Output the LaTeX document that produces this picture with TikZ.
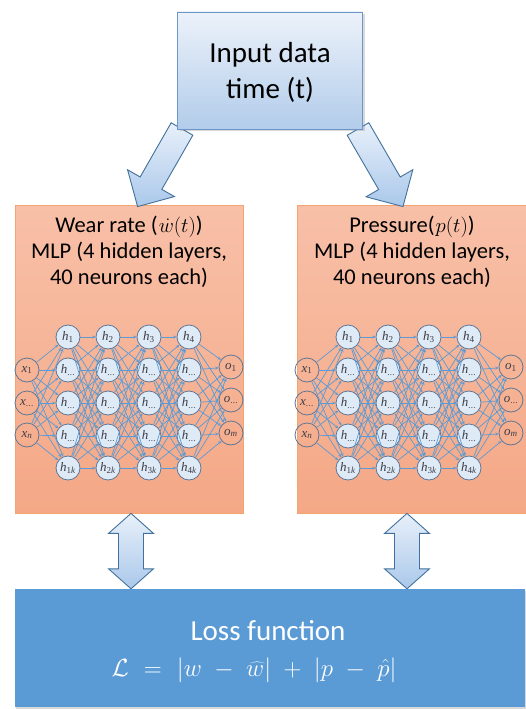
\documentclass[tikz,border=0pt]{standalone}
\usepackage{fontspec}
\setmainfont{Carlito}
\newfontfamily\tnr{Liberation Serif}
\usetikzlibrary{arrows.meta,shadows,calc}
\definecolor{inTop}{RGB}{236,242,250}
\definecolor{inBot}{RGB}{178,204,234}
\definecolor{inBorder}{RGB}{108,150,200}
\definecolor{orTop}{RGB}{248,192,168}
\definecolor{orBot}{RGB}{244,168,134}
\definecolor{orBorder}{RGB}{244,164,112}
\definecolor{lossBlue}{RGB}{91,155,213}
\definecolor{netBlue}{RGB}{91,155,213}
\definecolor{hFill}{RGB}{222,235,247}
\definecolor{nodeBorder}{RGB}{95,118,150}
\definecolor{arrBorder}{RGB}{65,113,156}
\definecolor{arrTop}{RGB}{232,240,250}
\definecolor{arrBot}{RGB}{170,200,234}
\definecolor{labGray}{RGB}{60,60,70}
\tikzset{
  inbox/.style={draw=inBorder, line width=0.9pt, top color=inTop, bottom color=inBot,
    minimum width=185pt, minimum height=117pt, inner sep=0pt,
    drop shadow={opacity=0.3, shadow xshift=2pt, shadow yshift=-2pt}},
  mlpbox/.style={draw=orBorder, line width=0.8pt, top color=orTop, bottom color=orBot,
    minimum height=308pt, inner sep=0pt},
  lossbox/.style={fill=lossBlue, minimum height=118pt, inner sep=0pt,
    drop shadow={opacity=0.3, shadow xshift=1pt, shadow yshift=-2pt}},
  bigtxt/.style={font=\fontsize{29}{35}\selectfont, anchor=base, inner sep=0pt},
  midtxt/.style={font=\fontsize{22.5}{26}\selectfont, anchor=base, inner sep=0pt},
  blockarr/.style={draw=arrBorder, line width=0.9pt, top color=arrTop, bottom color=arrBot},
  dblarr/.style={draw=arrBorder, line width=0.9pt, top color=arrTop, middle color=white!85!arrBot, bottom color=arrBot},
  neuron/.style={circle, draw=nodeBorder, line width=0.8pt, minimum size=24pt, inner sep=0pt,
    font=\tnr\fontsize{13}{14}\selectfont, text=labGray},
  hneuron/.style={neuron, fill=hFill},
  ioneuron/.style={neuron},
  conn/.style={draw=netBlue, line width=0.7pt, -{Stealth[length=3.5pt,width=3pt]}},
}
\newcommand\nlab[2]{\textit{#1}\textsubscript{#2}}
\newcommand\sdots{.\kern0.3pt.\kern0.3pt.}
\newcommand\blockarrow[5]{% tail, tip, shaft half, head half, head length
  \path[blockarr]
    ($(#1)!#3!90:(#2)$) --
    ($($(#2)!#5!(#1)$)!#3!90:(#2)$) --
    ($($(#2)!#5!(#1)$)!#4!90:(#2)$) --
    (#2) --
    ($($(#2)!#5!(#1)$)!#4!-90:(#2)$) --
    ($($(#2)!#5!(#1)$)!#3!-90:(#2)$) --
    ($(#1)!#3!-90:(#2)$) -- cycle;}
\newcommand\doublearrow[2]{% top tip, bottom tip
  \path[dblarr]
    (#1) --
    ($($(#1)!20pt!(#2)$)!22.5pt!-90:(#2)$) --
    ($($(#1)!20pt!(#2)$)!12.5pt!-90:(#2)$) --
    ($($(#2)!20pt!(#1)$)!12.5pt!-90:(#2)$) --
    ($($(#2)!20pt!(#1)$)!22.5pt!-90:(#2)$) --
    (#2) --
    ($($(#2)!20pt!(#1)$)!22.5pt!90:(#2)$) --
    ($($(#2)!20pt!(#1)$)!12.5pt!90:(#2)$) --
    ($($(#1)!20pt!(#2)$)!12.5pt!90:(#2)$) --
    ($($(#1)!20pt!(#2)$)!22.5pt!90:(#2)$) -- cycle;}
\newcommand\mlpnet[2]{% x offset, name prefix
  \foreach \r/\yy/\lab in {1/370/1, 2/403/\sdots, 3/435/\textit{n}}
    \node[ioneuron] (#2x\r) at (#1+27,\yy) {\nlab{x}{\lab}};
  \foreach \c/\xx in {1/68, 2/108, 3/149, 4/189}
    \foreach \r/\yy in {1/337, 2/370, 3/403, 4/436, 5/468}
      \node[hneuron] (#2h\c-\r) at (#1+\xx,\yy)
        {\ifnum\r=1 \nlab{h}{\c}\else\ifnum\r=5 \nlab{h}{\c\textit{k}}\else \nlab{h}{\sdots}\fi\fi};
  \foreach \r/\yy/\lab in {1/367/1, 2/400/\sdots, 3/433/\textit{m}}
    \node[ioneuron] (#2o\r) at (#1+231,\yy) {\nlab{o}{\lab}};
  \foreach \a in {1,2,3}
    \foreach \b in {1,2,3,4,5}
      \draw[conn] (#2x\a) -- (#2h1-\b);
  \foreach \c/\d in {1/2, 2/3, 3/4}
    \foreach \a in {1,2,3,4,5}
      \foreach \b in {1,2,3,4,5}
        \draw[conn] (#2h\c-\a) -- (#2h\d-\b);
  \foreach \a in {1,2,3,4,5}
    \foreach \b in {1,2,3}
      \draw[conn] (#2h4-\a) -- (#2o\b);
}
\begin{document}
\begin{tikzpicture}[x=1pt, y=-1pt]
\useasboundingbox (0,0) rectangle (526,709);
% boxes
\node[mlpbox, minimum width=228pt] (lbox) at (129,359) {};
\node[mlpbox, minimum width=230pt] (rbox) at (412,359) {};
\node[lossbox, minimum width=510pt] (loss) at (270,648) {};
% block arrows from input (behind the input box)
\coordinate (lat) at (182,129);
\coordinate (lah) at ([xshift=123pt, yshift=-2pt]lbox.north west);
\coordinate (rat) at (358,129);
\coordinate (rah) at ([xshift=-9pt, yshift=-2pt]rbox.north);
\blockarrow{lat}{lah}{12.5pt}{27pt}{27pt}
\blockarrow{rat}{rah}{12.5pt}{27pt}{27pt}
\node[inbox] (input) at (270,70.5) {};
\node[bigtxt] (in1) at (270,63) {Input data};
\node[bigtxt] (in2) at (270,98) {time (t)};
% MLP texts
\node[midtxt] (l1) at (129,232) {Wear rate (\kern1pt\ensuremath{\dot{w}(t)})};
\node[midtxt] (l2) at (129,258) {MLP (4 hidden layers,};
\node[midtxt] (l3) at (129,284) {40 neurons each)};
\node[midtxt] (r1) at (412,232) {Pressure(\kern1pt\ensuremath{p(t)})};
\node[midtxt] (r2) at (412,258) {MLP (4 hidden layers,};
\node[midtxt] (r3) at (412,284) {40 neurons each)};
% networks
\mlpnet{0}{L}
\mlpnet{280}{R}
% double arrows
\coordinate (dl1) at ([xshift=2pt]lbox.south);
\coordinate (dl2) at (dl1 |- loss.north);
\coordinate (dr1) at ([xshift=-5pt]rbox.south);
\coordinate (dr2) at (dr1 |- loss.north);
\doublearrow{dl1}{dl2}
\doublearrow{dr1}{dr2}
% loss text
\node[bigtxt, text=white] (lt1) at (268,640) {Loss function};
\node[bigtxt, text=white, font=\fontsize{33}{36}\selectfont] (lt2) at (254,676)
  {$\medmuskip=9mu \thickmuskip=11mu \mathcal{L} = |w - \widehat{w}| + |p - \hat{p}|$};
\end{tikzpicture}
\end{document}
